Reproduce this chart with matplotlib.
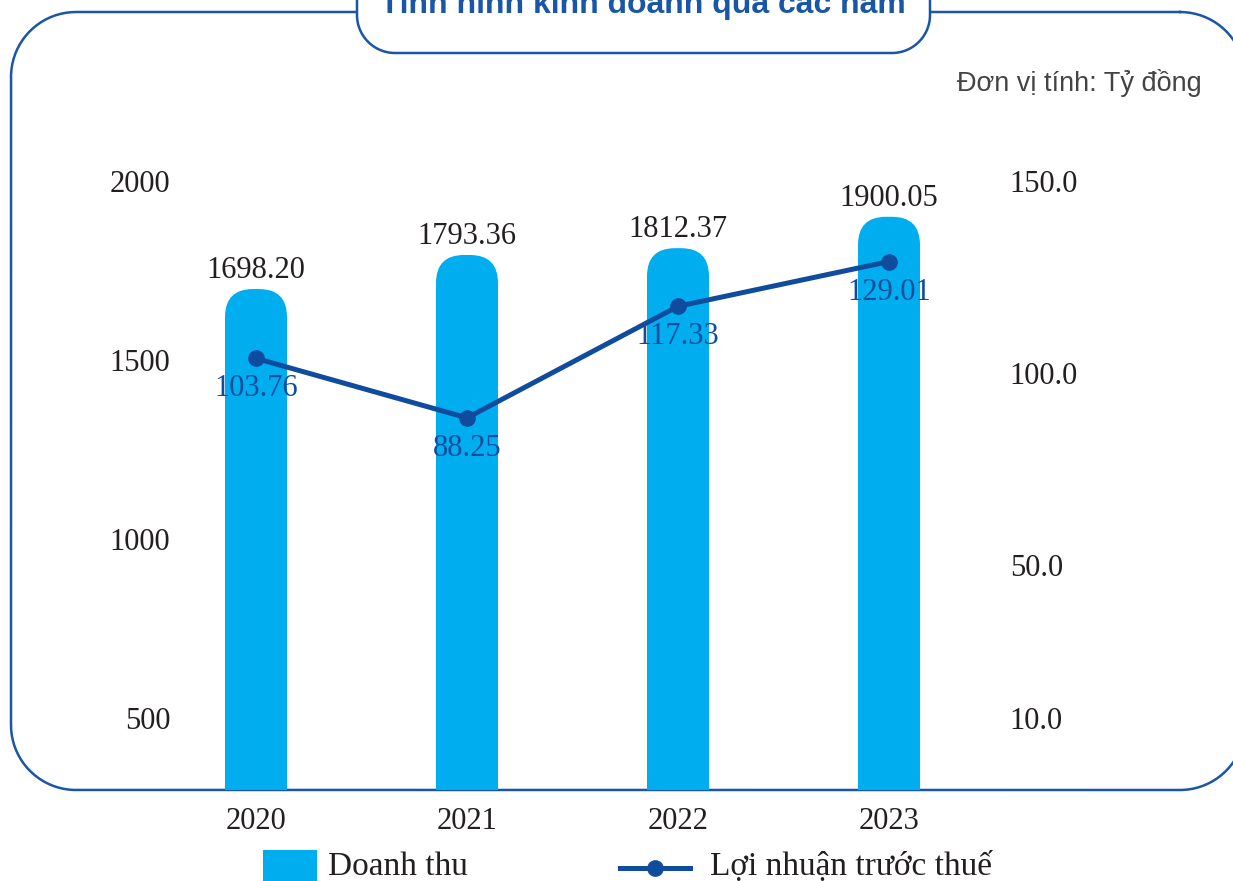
import matplotlib
matplotlib.use('Agg')
import matplotlib.pyplot as plt
import numpy as np
from matplotlib.patches import FancyBboxPatch, Rectangle
from matplotlib.lines import Line2D

years = ['2020', '2021', '2022', '2023']
revenue = [1698.20, 1793.36, 1812.37, 1900.05]   # Doanh thu
profit = [103.76, 88.25, 117.33, 129.01]          # Lợi nhuận trước thuế
left_ticks = [500, 1000, 1500, 2000]
right_ticks = [10, 50, 100, 150]

CYAN = '#00AEEF'
NAVY = '#0F4C9E'
FRAME = '#1A56A8'
DARK = '#231F20'

plt.rcParams['font.family'] = ['Liberation Serif', 'DejaVu Serif']
SANS = ['Liberation Sans', 'DejaVu Sans']


def rounded_outline(x0, y0, x1, y1, r, n=40):
    # outline of a rounded box in pixel coords (y grows downward)
    pts = []
    for cx, cy, a0 in [(x1 - r, y0 + r, -90), (x1 - r, y1 - r, 0),
                       (x0 + r, y1 - r, 90), (x0 + r, y0 + r, 180)]:
        t = np.radians(np.linspace(a0, a0 + 90, n))
        pts.append(np.c_[cx + r * np.cos(t), cy + r * np.sin(t)])
    pts = np.vstack(pts + [pts[0][:1]])
    return pts[:, 0], pts[:, 1]


fig = plt.figure(figsize=(12.33, 8.81), dpi=100)

# background layer in pixel coords (frame, title, unit, legend)
bg = fig.add_axes([0, 0, 1, 1], zorder=0)
bg.set_xlim(0, 1233)
bg.set_ylim(881, 0)
bg.axis('off')

fx, fy = rounded_outline(11, 12, 1245, 790, 65)
bg.plot(fx, fy, color=FRAME, lw=1.8)
px_, py_ = rounded_outline(357, -40, 930, 53, 38)
bg.fill(px_, py_, fc='white', ec=FRAME, lw=1.8, zorder=3)
bg.text(643, 13, 'Tình hình kinh doanh qua các năm', ha='center', va='baseline',
        fontsize=23, fontweight='bold', color=FRAME, family=SANS, zorder=4)
bg.text(1202, 83, 'Đơn vị tính: Tỷ đồng', ha='right', va='center', fontsize=19.5,
        color='#444444', family=SANS)

# legend
bg.add_patch(Rectangle((263, 850), 54, 40, fc=CYAN, ec='none'))
bg.text(328, 875, 'Doanh thu', va='baseline', fontsize=24, color=DARK)
bg.add_line(Line2D([620, 690], [868, 868], color=NAVY, lw=3.6))
bg.add_line(Line2D([655], [868], color=NAVY, marker='o', ms=11))
bg.text(710, 875, 'Lợi nhuận trước thuế', va='baseline', fontsize=24, color=DARK)

# main chart
ax = fig.add_axes([180 / 1233, 91 / 881, 820 / 1233, 690 / 881], zorder=1)
ax.patch.set_alpha(0)
x = np.arange(len(years))
px_x = 211.0                     # pixels per category
px_left = (718 - 181) / 1500.0   # pixels per unit, left axis
ax.set_xlim(-76 / px_x, 3 + 111 / px_x)
ax.set_ylim(500 - 72 / px_left, 2000 + 81 / px_left)

w = 62 / px_x
r = 28 / px_x
for xi, v in zip(x, revenue):
    ax.add_patch(FancyBboxPatch((xi - w / 2, 0), w, v,
                                boxstyle=f'round,pad=0,rounding_size={r}',
                                mutation_aspect=px_x / px_left, fc=CYAN, ec='none'))
    ax.annotate(f'{v:.2f}', (xi, v), xytext=(0, 8), textcoords='offset points',
                ha='center', va='baseline', fontsize=22, color=DARK)

ax.set_xticks(x, years)
ax.set_yticks(left_ticks, [str(t) for t in left_ticks])
ax.tick_params(axis='x', length=0, pad=12, labelsize=22, labelcolor=DARK)
ax.tick_params(axis='y', length=0, pad=7, labelsize=22, labelcolor=DARK)
for s in ax.spines.values():
    s.set_visible(False)

ax2 = ax.twinx()
ax2.set_zorder(2)
ax2.patch.set_alpha(0)
px_right = (718 - 181) / 140.0
ax2.set_ylim(10 - 72 / px_right, 150 + 81 / px_right)
ax2.plot(x, profit, color=NAVY, lw=3.6, marker='o', ms=11)
for xi, p in zip(x, profit):
    ax2.annotate(f'{p:.2f}', (xi, p), xytext=(0, -22), textcoords='offset points',
                 ha='center', va='center', fontsize=22, color=NAVY)
ax2.set_yticks(right_ticks, [f'{t:.1f}' for t in right_ticks])
ax2.tick_params(axis='y', length=0, pad=7, labelsize=22, labelcolor=DARK)
for s in ax2.spines.values():
    s.set_visible(False)

fig.savefig('out.png', dpi=100)
